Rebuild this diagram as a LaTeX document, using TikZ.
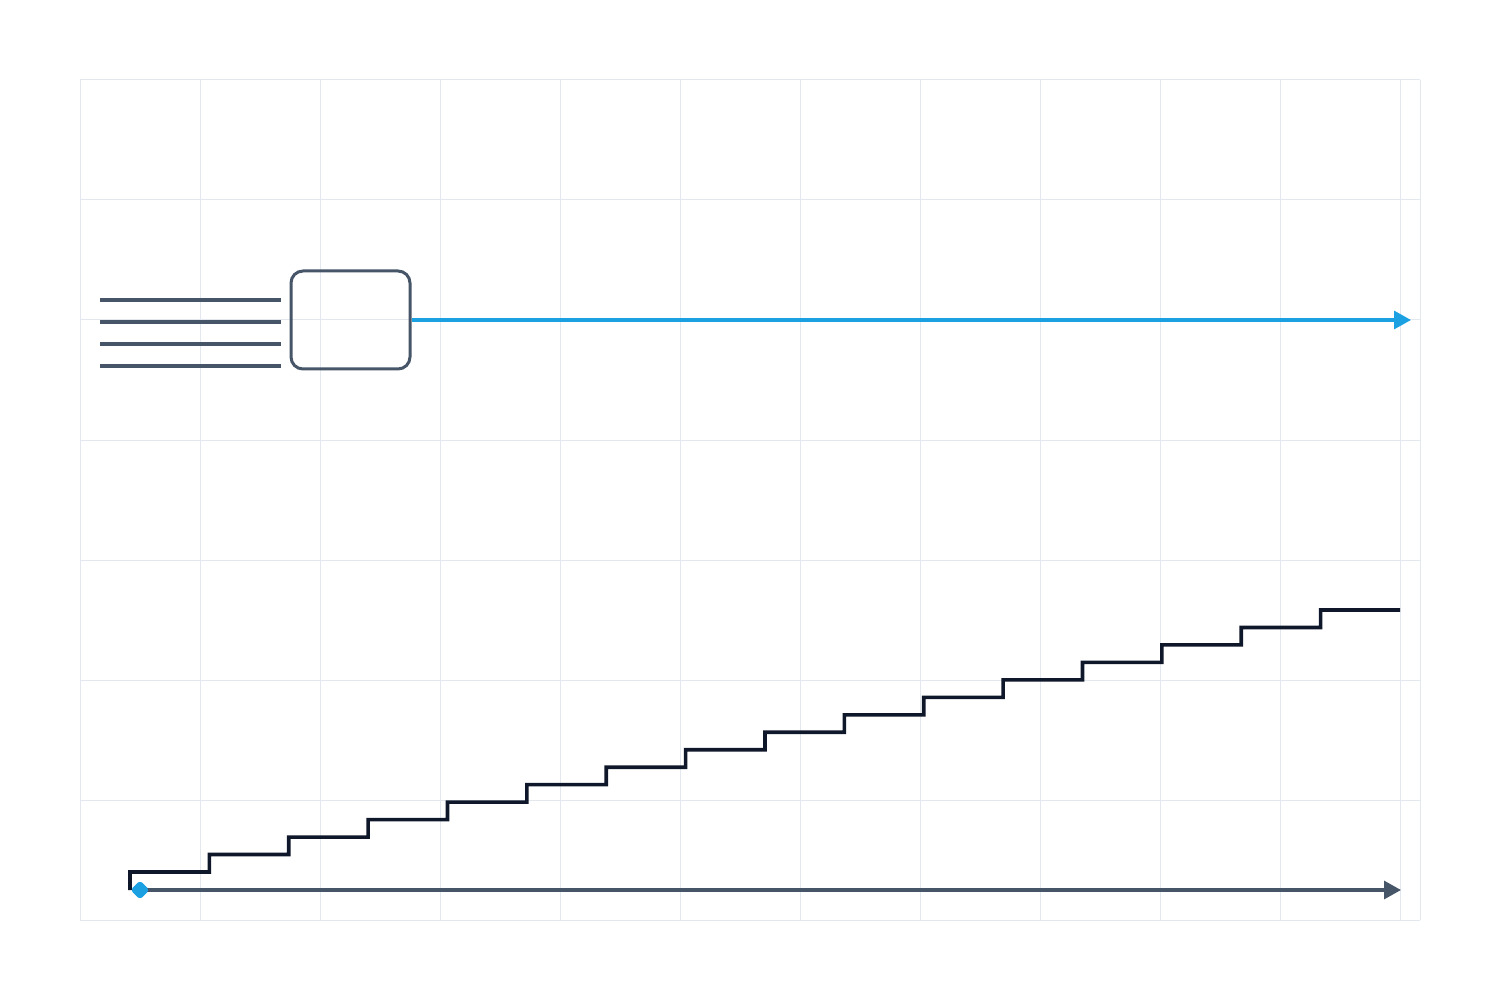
\documentclass[tikz,border=0pt]{standalone}
\usetikzlibrary{arrows.meta,shapes.geometric}
\definecolor{gridc}{HTML}{E2E8ED}
\definecolor{slatec}{HTML}{475569}
\definecolor{navyc}{HTML}{0F172A}
\definecolor{bluec}{HTML}{1BA1E2}
\tikzset{
  gridline/.style={draw=gridc, line width=0.5pt},
  slateline/.style={draw=slatec, line width=1.6pt},
  stairline/.style={draw=navyc, line width=1.8pt, line join=miter},
  boxnode/.style={draw=slatec, line width=1.5pt, rounded corners=6pt, minimum width=59.5pt, minimum height=49pt, inner sep=0pt},
  arrowtip/.style={-{Triangle[length=8.5pt,width=9pt]}},
  dotnode/.style={diamond, fill=bluec, inner sep=0pt, minimum size=9.5pt, rounded corners=1.5pt}
}
\begin{document}
\begin{tikzpicture}[x=0.5pt,y=-0.5pt]
\useasboundingbox (0,0) rectangle (1500,1000);
% grid
\foreach \gx in {80,200,...,1400} \draw[gridline] (\gx,80) -- (\gx,920);
\draw[gridline] (1420,80) -- (1420,920);
\foreach \gy in {80,200,...,920} \draw[gridline] (80,\gy) -- (1420,\gy);
% input lines
\foreach \ly/\nm in {300/a,322/b,344/c,366/d} {
  \coordinate (in\nm s) at (100,\ly);
  \coordinate (in\nm e) at (281,\ly);
  \draw[slateline] (in\nm s) -- (in\nm e);
}
% box
\node[boxnode] (box) at (350.5,320) {};
\coordinate (blueend) at (1411,320);
\draw[draw=bluec, line width=1.6pt, arrowtip, bluec] (box.east) -- (blueend);
% staircase
\coordinate (stairstart) at (130,890);
\draw[stairline] (stairstart) -- (130,872)
  \foreach \k in {1,...,15} { -- ({130+\k*79.375},{872-(\k-1)*17.4667}) -- ({130+\k*79.375},{872-\k*17.4667}) }
  -- (1400,610) coordinate (stairend);
% time axis
\node[dotnode] (origin) at (140,890) {};
\coordinate (axisend) at (1401,890);
\draw[slateline, arrowtip, slatec] (origin.center) -- (axisend);
\node[dotnode] at (140,890) {};
\end{tikzpicture}
\end{document}
